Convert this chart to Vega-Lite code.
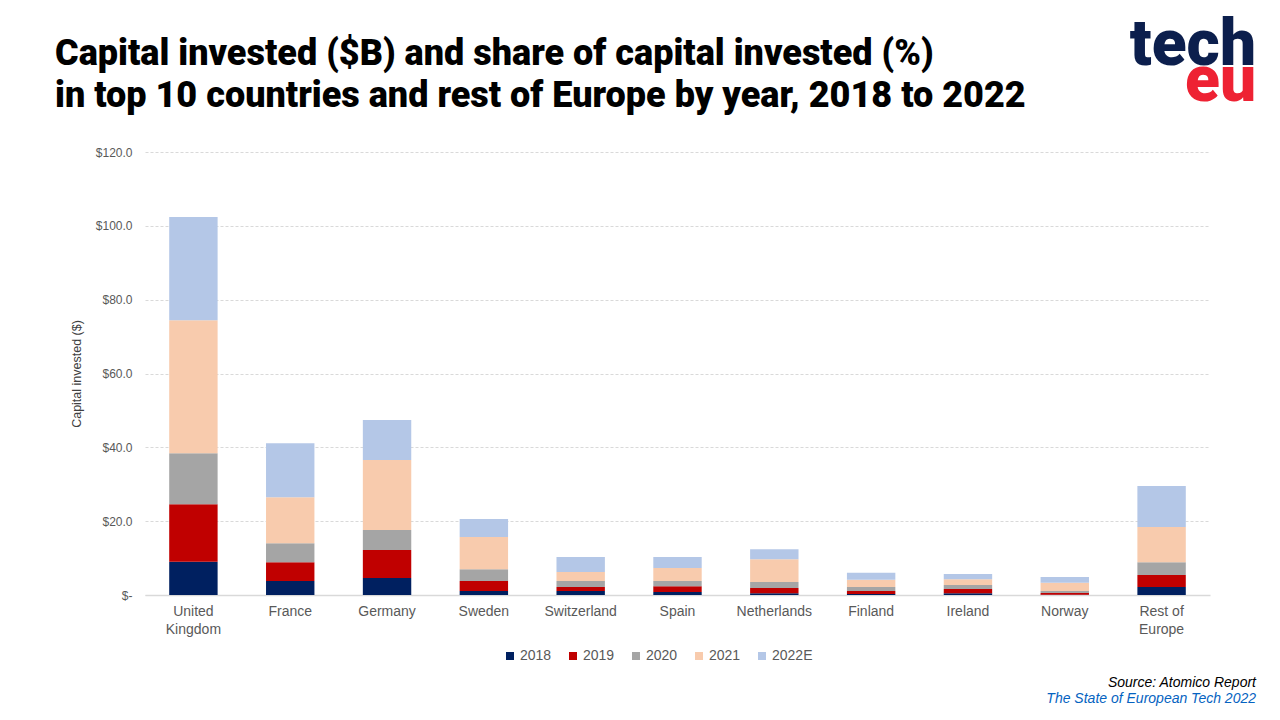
{
  "$schema": "https://vega.github.io/schema/vega-lite/v6.json",
  "autosize": {"type": "none"},
  "width": 1065,
  "height": 443,
  "padding": {"left": 145, "top": 152, "right": 70, "bottom": 125},
  "background": "white",
  "config": {
    "view": {"stroke": null},
    "font": "Liberation Sans"
  },
  "title": {
    "text": ["Capital invested ($B) and share of capital invested (%)", "in top 10 countries and rest of Europe by year, 2018 to 2022"],
    "anchor": "start",
    "frame": "group",
    "dx": -90,
    "offset": -101,
    "font": "Roboto",
    "fontSize": 36,
    "fontWeight": 900,
    "color": "#000000",
    "lineHeight": 42
  },
  "datasets": {
    "invest": [
      {"country": "United Kingdom", "year": "2018", "value": 9.0},
      {"country": "United Kingdom", "year": "2019", "value": 15.6},
      {"country": "United Kingdom", "year": "2020", "value": 13.8},
      {"country": "United Kingdom", "year": "2021", "value": 36.0},
      {"country": "United Kingdom", "year": "2022E", "value": 28.0},
      {"country": "France", "year": "2018", "value": 3.8},
      {"country": "France", "year": "2019", "value": 5.1},
      {"country": "France", "year": "2020", "value": 5.1},
      {"country": "France", "year": "2021", "value": 12.5},
      {"country": "France", "year": "2022E", "value": 14.6},
      {"country": "Germany", "year": "2018", "value": 4.6},
      {"country": "Germany", "year": "2019", "value": 7.6},
      {"country": "Germany", "year": "2020", "value": 5.4},
      {"country": "Germany", "year": "2021", "value": 19.0},
      {"country": "Germany", "year": "2022E", "value": 10.8},
      {"country": "Sweden", "year": "2018", "value": 1.1},
      {"country": "Sweden", "year": "2019", "value": 2.7},
      {"country": "Sweden", "year": "2020", "value": 3.2},
      {"country": "Sweden", "year": "2021", "value": 8.7},
      {"country": "Sweden", "year": "2022E", "value": 4.9},
      {"country": "Switzerland", "year": "2018", "value": 1.1},
      {"country": "Switzerland", "year": "2019", "value": 1.1},
      {"country": "Switzerland", "year": "2020", "value": 1.6},
      {"country": "Switzerland", "year": "2021", "value": 2.4},
      {"country": "Switzerland", "year": "2022E", "value": 4.1},
      {"country": "Spain", "year": "2018", "value": 0.8},
      {"country": "Spain", "year": "2019", "value": 1.6},
      {"country": "Spain", "year": "2020", "value": 1.4},
      {"country": "Spain", "year": "2021", "value": 3.5},
      {"country": "Spain", "year": "2022E", "value": 3.0},
      {"country": "Netherlands", "year": "2018", "value": 0.5},
      {"country": "Netherlands", "year": "2019", "value": 1.4},
      {"country": "Netherlands", "year": "2020", "value": 1.6},
      {"country": "Netherlands", "year": "2021", "value": 6.2},
      {"country": "Netherlands", "year": "2022E", "value": 2.7},
      {"country": "Finland", "year": "2018", "value": 0.3},
      {"country": "Finland", "year": "2019", "value": 0.8},
      {"country": "Finland", "year": "2020", "value": 1.1},
      {"country": "Finland", "year": "2021", "value": 1.9},
      {"country": "Finland", "year": "2022E", "value": 1.9},
      {"country": "Ireland", "year": "2018", "value": 0.5},
      {"country": "Ireland", "year": "2019", "value": 1.1},
      {"country": "Ireland", "year": "2020", "value": 1.1},
      {"country": "Ireland", "year": "2021", "value": 1.6},
      {"country": "Ireland", "year": "2022E", "value": 1.4},
      {"country": "Norway", "year": "2018", "value": 0.1},
      {"country": "Norway", "year": "2019", "value": 0.45},
      {"country": "Norway", "year": "2020", "value": 0.55},
      {"country": "Norway", "year": "2021", "value": 2.2},
      {"country": "Norway", "year": "2022E", "value": 1.6},
      {"country": "Rest of Europe", "year": "2018", "value": 2.2},
      {"country": "Rest of Europe", "year": "2019", "value": 3.2},
      {"country": "Rest of Europe", "year": "2020", "value": 3.5},
      {"country": "Rest of Europe", "year": "2021", "value": 9.5},
      {"country": "Rest of Europe", "year": "2022E", "value": 11.1}
    ],
    "notes": [
      {"text": "Source: Atomico Report", "kind": "source"},
      {"text": "The State of European Tech 2022", "kind": "link"}
    ]
  },
  "layer": [
    {
      "data": {"name": "invest"},
      "mark": {"type": "bar"},
      "encoding": {
        "x": {
          "field": "country",
          "type": "nominal",
          "sort": null,
          "scale": {"paddingInner": 0.5, "paddingOuter": 0.25},
          "axis": {
            "title": null,
            "labelAngle": 0,
            "labelFontSize": 14,
            "labelColor": "#595959",
            "labelPadding": 9,
            "labelLineHeight": 18,
            "ticks": false,
            "domainColor": "#d9d9d9",
            "domainWidth": 1.5,
            "labelExpr": "datum.label == 'United Kingdom' ? ['United', 'Kingdom'] : datum.label == 'Rest of Europe' ? ['Rest of', 'Europe'] : datum.label"
          }
        },
        "y": {
          "field": "value",
          "type": "quantitative",
          "stack": "zero",
          "scale": {"domain": [0, 120]},
          "axis": {
            "title": "Capital invested  ($)",
            "titleFontSize": 12.5,
            "titleFontWeight": "normal",
            "titleColor": "#404040",
            "titlePadding": 12,
            "values": [0, 20, 40, 60, 80, 100, 120],
            "labelExpr": "datum.value == 0 ? '$-' : '$' + format(datum.value, '.1f')",
            "labelFontSize": 12,
            "labelColor": "#595959",
            "labelPadding": 13,
            "ticks": false,
            "domain": false,
            "gridColor": "#d9d9d9",
            "gridDash": [3, 2]
          }
        },
        "color": {
          "field": "year",
          "type": "nominal",
          "scale": {
            "domain": ["2018", "2019", "2020", "2021", "2022E"],
            "range": ["#002060", "#C00000", "#A5A5A5", "#F8CBAD", "#B4C7E7"]
          },
          "legend": {
            "title": null,
            "orient": "none",
            "direction": "horizontal",
            "legendX": 358,
            "legendY": 497,
            "symbolType": "square",
            "symbolSize": 64,
            "symbolStrokeWidth": 0,
            "labelFontSize": 14,
            "labelColor": "#595959",
            "labelOffset": 3,
            "columnPadding": 14
          }
        },
        "order": {"field": "year", "type": "ordinal", "sort": "ascending"}
      }
    },
    {
      "data": {"name": "notes"},
      "transform": [{"filter": "datum.kind == 'source'"}],
      "mark": {"type": "text", "align": "right", "baseline": "alphabetic", "fontSize": 14, "fontStyle": "italic", "color": "#000000", "font": "Liberation Sans"},
      "encoding": {
        "text": {"field": "text"},
        "x": {"value": 1111},
        "y": {"value": 535}
      }
    },
    {
      "data": {"name": "notes"},
      "transform": [{"filter": "datum.kind == 'link'"}],
      "mark": {"type": "text", "align": "right", "baseline": "alphabetic", "fontSize": 14, "fontStyle": "italic", "color": "#0563C1", "font": "Liberation Sans"},
      "encoding": {
        "text": {"field": "text"},
        "x": {"value": 1111},
        "y": {"value": 551}
      }
    },
    {
      "data": {"values": [{"t": "tech"}]},
      "mark": {"type": "text", "align": "right", "baseline": "alphabetic", "fontSize": 64, "fontWeight": 900, "font": "Roboto", "color": "#0C1F4D"},
      "encoding": {
        "text": {"field": "t"},
        "x": {"value": 1111},
        "y": {"value": -87}
      }
    },
    {
      "data": {"values": [{"t": "eu"}]},
      "mark": {"type": "text", "align": "right", "baseline": "alphabetic", "fontSize": 64, "fontWeight": 900, "font": "Roboto", "color": "#EE2233"},
      "encoding": {
        "text": {"field": "t"},
        "x": {"value": 1111},
        "y": {"value": -51}
      }
    }
  ]
}
